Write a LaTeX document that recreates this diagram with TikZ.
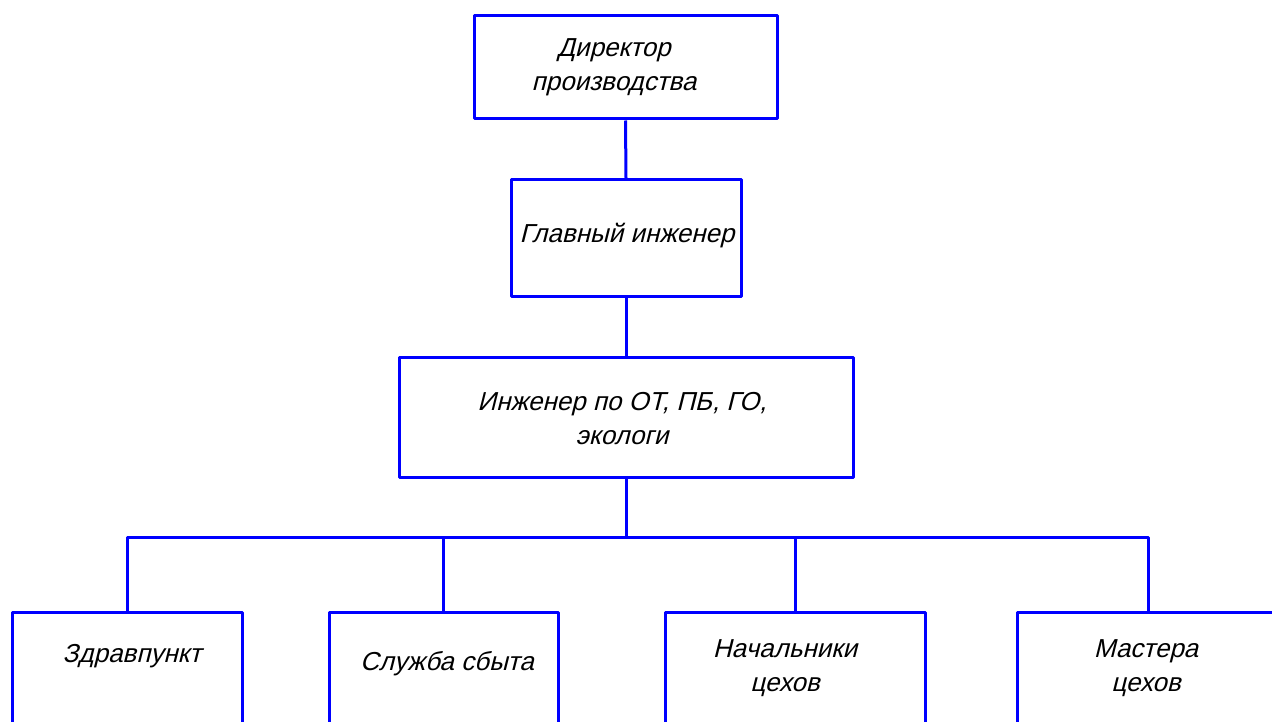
\documentclass[tikz,border=0pt]{standalone}
\usepackage{fontspec}
\newfontfamily\gost[FakeSlant=0.25]{Liberation Sans}
\begin{document}
\begin{tikzpicture}[x=1pt,y=-1pt,
  box/.style={draw=linecol,line width=3pt,line join=round,rectangle,inner sep=0pt},
  lbl/.style={font=\gost\fontsize{26}{34}\selectfont,text=black,align=center,inner sep=0pt},
  conn/.style={draw=linecol,line width=3pt,line join=round}]
\definecolor{linecol}{RGB}{0,0,255}
\useasboundingbox (0,0) rectangle (1272,722);
\clip (0,0) rectangle (1272,722);
\node[box,minimum width=303pt,minimum height=103pt] (d1) at (625.5,67.5) {};
\node[box,minimum width=230pt,minimum height=116pt] (d2) at (626,238) {};
\node[box,minimum width=454pt,minimum height=120pt] (d3) at (626,417) {};
\node[box,minimum width=230pt,minimum height=160pt] (bA) at (127,692) {};
\node[box,minimum width=229pt,minimum height=160pt] (bB) at (443.5,692) {};
\node[box,minimum width=260pt,minimum height=160pt] (bC) at (795,692) {};
\node[box,minimum width=262pt,minimum height=160pt] (bD) at (1148,692) {};
\node[lbl] (t1) at (614,67) {Директор\\производства};
\node[lbl] (t2) at (627,236) {Главный инженер};
\node[lbl] (t3) at (622,419) {Инженер по ОТ, ПБ, ГО,\\экологи};
\node[lbl] (tA) at (132,656) {Здравпункт};
\node[lbl] (tB) at (447,664) {Служба сбыта};
\node[lbl] (tC) at (785,668) {Начальники\\цехов};
\node[lbl] (tD) at (1146,668) {Мастера\\цехов};
\coordinate (bus) at (626,537);
\draw[conn] (d1.south) -- (d2.north);
\draw[conn] (d2.south) -- (d3.north);
\draw[conn] (d3.south) -- (bus);
\draw[conn] (bA.north) |- (bus) -| (bD.north);
\draw[conn] (bB.north) -- (bB.north |- bus);
\draw[conn] (bC.north) -- (bC.north |- bus);
\end{tikzpicture}
\end{document}
